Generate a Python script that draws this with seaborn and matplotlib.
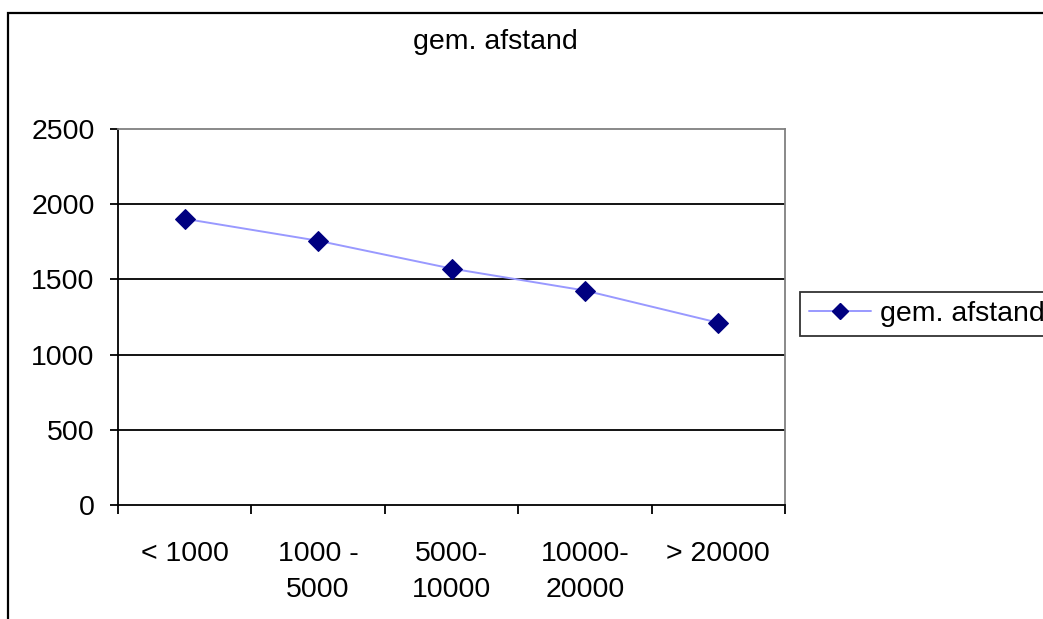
import matplotlib
matplotlib.use("Agg")
import matplotlib.pyplot as plt
import seaborn as sns
import pandas as pd
from matplotlib.patches import Rectangle
from matplotlib.lines import Line2D

categories = ["< 1000", "1000 -\n5000", "5000-\n10000", "10000-\n20000", "> 20000"]
values = [1903, 1757, 1572, 1426, 1212]
series_name = "gem. afstand"
yticks = [0, 500, 1000, 1500, 2000, 2500]

sns.set_theme(style="white")
plt.rcParams['font.family'] = ['Liberation Sans', 'DejaVu Sans']
plt.rcParams['text.color'] = 'black'
plt.rcParams['xtick.color'] = 'black'
plt.rcParams['ytick.color'] = 'black'

W, H = 1043, 619
FS = 20.5
fig = plt.figure(figsize=(W / 100, H / 100), dpi=100)
ax = fig.add_axes([118 / W, 1 - 505 / H, 667 / W, 376 / H])

df = pd.DataFrame({"cat": categories, "val": values, "series": series_name})
sns.lineplot(data=df, x="cat", y="val", hue="series", palette=["#9999FF"],
             sort=False, ax=ax, linewidth=1.4, marker="D", markersize=10.5,
             markerfacecolor="#000080", markeredgecolor="#000080", legend=False)

ax.set_xlim(-0.5, len(categories) - 0.5)
ax.set_ylim(0, 2500)
ax.set_xlabel("")
ax.set_ylabel("")

for yv in yticks[1:-1]:
    ax.axhline(yv, color="black", linewidth=1.3, zorder=0)

ax.set_yticks(yticks)
ax.set_yticklabels([str(v) for v in yticks], fontsize=FS, color="black")
ax.set_xticks([i - 0.5 for i in range(len(categories) + 1)])
ax.set_xticklabels([""] * (len(categories) + 1))
ax.set_xticks(range(len(categories)), minor=True)
ax.set_xticklabels(categories, minor=True, fontsize=FS, linespacing=1.5, color="black")
ax.tick_params(axis="x", which="major", direction="out", length=6.5, width=1.3, color="black", bottom=True)
ax.tick_params(axis="x", which="minor", length=0, pad=26, bottom=True)
ax.tick_params(axis="y", direction="out", length=5.8, width=1.3, color="black", pad=11, left=True)

for side in ["left", "bottom"]:
    ax.spines[side].set_color("black")
    ax.spines[side].set_linewidth(1.3)
for side in ["top", "right"]:
    ax.spines[side].set_visible(True)
    ax.spines[side].set_color("#808080")
    ax.spines[side].set_linewidth(1.3)

handle = Line2D([], [], color="#9999FF", linewidth=1.4, marker="D", markersize=8,
                markerfacecolor="#000080", markeredgecolor="#000080")
leg = fig.legend([handle], [series_name], loc="center left",
                 bbox_to_anchor=(800 / W, 1 - 314 / H), fontsize=FS, frameon=True,
                 fancybox=False, borderpad=0.3, handlelength=2.2, handletextpad=0.3,
                 borderaxespad=0)
leg.get_frame().set_edgecolor("black")
leg.get_frame().set_linewidth(1.3)
for t in leg.get_texts():
    t.set_color("black")

fig.text(413 / W, 1 - 42 / H, series_name, ha="left", va="center", fontsize=FS, color="black")

fig.patches.append(Rectangle((8 / W, -0.1), 1.2, 1 - 13 / H + 0.1, transform=fig.transFigure,
                             fill=False, edgecolor="black", linewidth=1.6))

fig.savefig("out.png", dpi=100)
